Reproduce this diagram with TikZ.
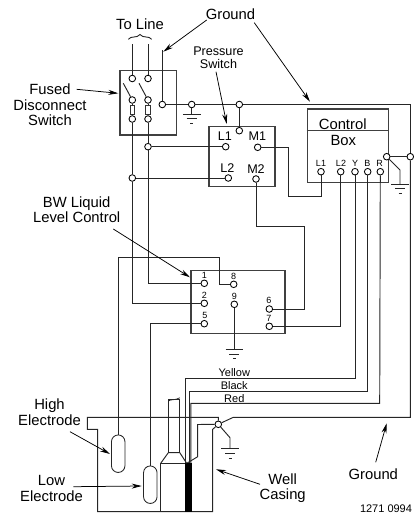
\documentclass[tikz,border=0pt]{standalone}
\usepackage{fontspec}
\setmainfont{Liberation Sans}
\usetikzlibrary{arrows.meta}
\tikzset{
  wire/.style={draw=black!85,line width=0.95pt,line join=miter},
  boxline/.style={draw=black!75,line width=1.15pt},
  term/.style={circle,draw=black,line width=0.85pt,fill=white,minimum size=6.6pt,inner sep=0pt},
  lab/.style={inner sep=0pt,align=center,font=\fontsize{14.8}{15.6}\selectfont},
  labm/.style={inner sep=0pt,align=center,font=\fontsize{12.6}{12.6}\selectfont},
  labs/.style={inner sep=0pt,align=center,font=\fontsize{9}{9}\selectfont},
  labc/.style={inner sep=0pt,align=center,font=\fontsize{11}{11}\selectfont},
  ptr/.style={draw=black,line width=0.75pt,-{Stealth[length=10pt,width=5pt]}},
  fuse/.style={rectangle,draw=black!80,line width=0.85pt,fill=white,minimum width=4.6pt,minimum height=9pt,inner sep=0pt},
  pill/.style={rectangle,draw=black!85,line width=0.85pt,fill=white,minimum width=13.5pt,minimum height=37.5pt,inner sep=0pt,rounded corners=6.7pt},
  gnd/.pic={
    \draw[line width=0.9pt,draw=black!85] (-8.8,0) -- (8.8,0);
    \draw[line width=0.9pt,draw=black!85] (-5,4.8) -- (5,4.8);
    \draw[line width=0.9pt,draw=black!85] (-1.5,9.4) -- (1.5,9.4);
  }
}
\begin{document}
\begin{tikzpicture}[x=1pt,y=-1pt]
\useasboundingbox (0,0) rectangle (413,520);
% boxes
\node[boxline,rectangle,minimum width=56.7pt,minimum height=64.3pt,inner sep=0pt] (disc) at (148.35,102.85) {};
\node[boxline,rectangle,minimum width=66pt,minimum height=59.6pt,inner sep=0pt] (pres) at (242,156.5) {};
\node[boxline,rectangle,minimum width=81pt,minimum height=73.7pt,inner sep=0pt] (ctrl) at (347.8,145.85) {};
\node[boxline,rectangle,minimum width=94pt,minimum height=62.6pt,inner sep=0pt] (bw) at (238,302) {};
\draw[boxline] (ctrl.west |- 0,130.7) coordinate (dl) -- (ctrl.east |- 0,130.7) coordinate (dr);
% terminals
\node[term] (a1) at (132.3,78.5) {};
\node[term] (a2) at (148,78.5) {};
\node[term] (b1) at (132.3,100) {};
\node[term] (b2) at (148,100) {};
\node[term] (c1) at (132.3,119) {};
\node[term] (c2) at (148,119) {};
\node[fuse] (f1) at (132.3,109.5) {};
\node[fuse] (f2) at (148,109.5) {};
\node[term] (dg) at (162.3,104.5) {};
\node[term] (g1) at (191.7,104.5) {};
\node[term] (g2) at (239.3,104.5) {};
\node[term] (ptop) at (239.3,130.7) {};
\node[term] (j1) at (148,146.7) {};
\node[term] (j2) at (132.3,178) {};
\node[term] (pl1) at (225.7,146.7) {};
\node[term] (pl2) at (228.3,178) {};
\node[term] (pm1) at (257.7,147.3) {};
\node[term] (pm2) at (256,179) {};
\node[term] (cl1) at (321,171.7) {};
\node[term] (cl2) at (340.7,171.7) {};
\node[term] (cy) at (355,171.7) {};
\node[term] (cb) at (367.7,171.7) {};
\node[term] (cr) at (380.3,171.7) {};
\node[term] (cg) at (386.7,156.7) {};
\node[term] (rg) at (410.3,156.7) {};
\node[term] (t1) at (204.3,283.3) {};
\node[term] (t2) at (204.3,303.3) {};
\node[term] (t5) at (204.3,323.7) {};
\node[term] (t8) at (233.7,284.3) {};
\node[term] (t9) at (234.3,304.3) {};
\node[term] (t6) at (269.3,309) {};
\node[term] (t7) at (269.3,326.3) {};
\node[term] (wg) at (218.3,424.3) {};
\node[pill] (hi) at (118.2,453.7) {};
\node[pill] (lo) at (150.3,484.7) {};
% free ends and bends
\coordinate (la1) at (132.3,44);
\coordinate (la2) at (148,44);
\coordinate (gup) at (162.3,50);
\coordinate (bl1) at (123.3,83.3);
\coordinate (bl2) at (139,83.3);
\coordinate (g1g) at (191.7,114);
\coordinate (t9g) at (234.3,349.3);
\coordinate (cgb) at (400,170);
\coordinate (cgg) at (400,184);
\coordinate (wgb) at (230,437.7);
\coordinate (wgg) at (230,448.7);
% wires
\draw[wire] (la1) -- (a1);
\draw[wire] (la2) -- (a2);
\draw[wire] (bl1) -- (b1);
\draw[wire] (bl2) -- (b2);
\draw[wire] (b1) -- (f1) -- (c1);
\draw[wire] (b2) -- (f2) -- (c2);
\draw[wire] (gup) -- (dg);
\draw[wire] (dg) -- (g1);
\draw[wire] (g1) -- (g2);
\draw[wire] (g1) -- (g1g);
\draw[wire] (g2) -- (ptop);
\draw[wire] (g2) -- (410.3,104.5) -- (rg);
\draw[wire] (rg) -- (410.3,417.3) -- (233.3,417.3) -- (wg);
\draw[wire] (cg) -- (rg);
\draw[wire] (cg) -- (cgb) -- (cgg);
\draw[wire] (c1) -- (j2);
\draw[wire] (c2) -- (j1);
\draw[wire] (j1) -- (pl1);
\draw[wire] (j2) -- (pl2);
\draw[wire] (j1) |- (t1);
\draw[wire] (j2) |- (t2);
\draw[wire] (pm1) -- (288.3,147.3) -- (288.3,196) -- (321,196) -- (cl1);
\draw[wire] (pm2) -- (256,226.3) -- (304.5,226.3) -- (304.5,309) -- (t6);
\draw[wire] (cl2) |- (t7);
\draw[wire] (cy) -- (355,378.3) -- (185.7,378.3) -- (185.7,463.3);
\draw[wire] (cb) -- (367.7,391.3) -- (189,391.3) -- (189,463.3);
\draw[wire] (cr) -- (379.7,403.3) -- (190.9,403.3) -- (190.9,463.3);
\draw[wire] (t8) -- (219.3,284.3) -- (219.3,257.7) -- (118.2,257.7) -- (hi.north);
\draw[wire] (t5) -- (150.3,323.7) -- (lo.north);
\draw[wire] (t9) -- (t9g);
\draw[wire] (wg) -- (wgb) -- (wgg);
% well casing
\draw[wire] (wg) -- (218.3,417.3) -- (87.3,417.3) -- (87.3,429.3) -- (97.7,429.3) -- (97.7,511.7) -- (212.7,511.7) -- (212.7,429.3) -- (wg);
\draw[wire] (wg) -- (197.7,424.5) -- (197.7,456.7) -- (186.7,463.3);
% pump
\fill[black] (185,463.3) rectangle (191.7,511.7);
\draw[wire] (160.7,511.7) -- (160.7,463.3) -- (185,463.3);
\draw[wire] (160.7,463.3) -- (168.3,452.7) -- (179.8,452.7) -- (186.7,463.3);
\draw[wire] (168.3,452.7) -- (168.3,399.3) -- (179.8,399.3) -- (179.8,452.7);
\draw[line width=0.75pt,draw=black!85] (168.3,401) .. controls (171,399) and (175,400.5) .. (179.8,397.8);
% grounds
\pic at (g1g) {gnd};
\pic at (t9g) {gnd};
\pic at (cgg) {gnd};
\pic at (wgg) {gnd};
% line brace
\draw[line width=0.9pt,draw=black!85] (128.3,39.3) .. controls (131,35.5) and (137,38.5) .. (140,34.5) .. controls (143,38.5) and (149,35.5) .. (151.7,39.3);
% labels
\node[lab] (tl) at (140,24) {To Line};
\node[lab] (gr1) at (230.5,14) {Ground};
\node[lab] (fd) at (50,105) {Fused\\Disconnect\\Switch};
\node[labm] (ps) at (218.5,58) {Pressure\\Switch};
\node[labm] (nl1) at (225,136) {L1};
\node[labm] (nl2) at (227.3,168.5) {L2};
\node[labm] (nm1) at (257.3,136.5) {M1};
\node[labm] (nm2) at (256,169.5) {M2};
\node[lab] (cc) at (342.7,124.5) {Control};
\node[lab] (cx) at (343.3,140) {Box};
\node[labs] (sl1) at (321,163.3) {L1};
\node[labs] (sl2) at (341,163.3) {L2};
\node[labs] (sy) at (355,163.3) {Y};
\node[labs] (sb) at (367.3,163) {B};
\node[labs] (sr) at (379.7,163) {R};
\node[lab] (bwl) at (76.7,209.7) {BW Liquid\\Level Control};
\node[labs] (n1) at (204.3,275.7) {1};
\node[labs] (n8) at (233.7,276.7) {8};
\node[labs] (n2) at (204.3,295) {2};
\node[labs] (n9) at (234.3,296) {9};
\node[labs] (n5) at (205,315.7) {5};
\node[labs] (n6) at (269,300.7) {6};
\node[labs] (n7) at (269,318.7) {7};
\node[labc] (yl) at (234.3,372.3) {Yellow};
\node[labc] (bk) at (234.3,386) {Black};
\node[labc] (rd) at (234.3,398.3) {Red};
\node[lab] (he) at (49.5,412.5) {High\\Electrode};
\node[lab] (le) at (51.5,488.7) {Low\\Electrode};
\node[lab] (wc) at (282.7,488) {Well\\Casing};
\node[lab] (gr2) at (373.3,474) {Ground};
\node[labc] (code) at (386,509) {1271 0994};
% pointers
\coordinate (p1s) at (206.7,20); \coordinate (p1e) at (163.3,51.7);
\coordinate (p2s) at (254.3,22.7); \coordinate (p2e) at (310,101.7);
\coordinate (p3s) at (76.7,89.3); \coordinate (p3e) at (118.3,93.3);
\coordinate (p4s) at (216,71.7); \coordinate (p4e) at (226.7,124);
\coordinate (p5s) at (113.3,229); \coordinate (p5e) at (190,277.3);
\coordinate (p6s) at (70,431.7); \coordinate (p6e) at (110,454);
\coordinate (p7s) at (73.3,486.7); \coordinate (p7e) at (141.7,486);
\coordinate (p8s) at (260,484.3); \coordinate (p8e) at (216,469.3);
\coordinate (p9s) at (375.7,462.3); \coordinate (p9e) at (386.7,423.3);
\foreach \k in {1,...,9} { \draw[ptr] (p\k s) -- (p\k e); }
\end{tikzpicture}
\end{document}
